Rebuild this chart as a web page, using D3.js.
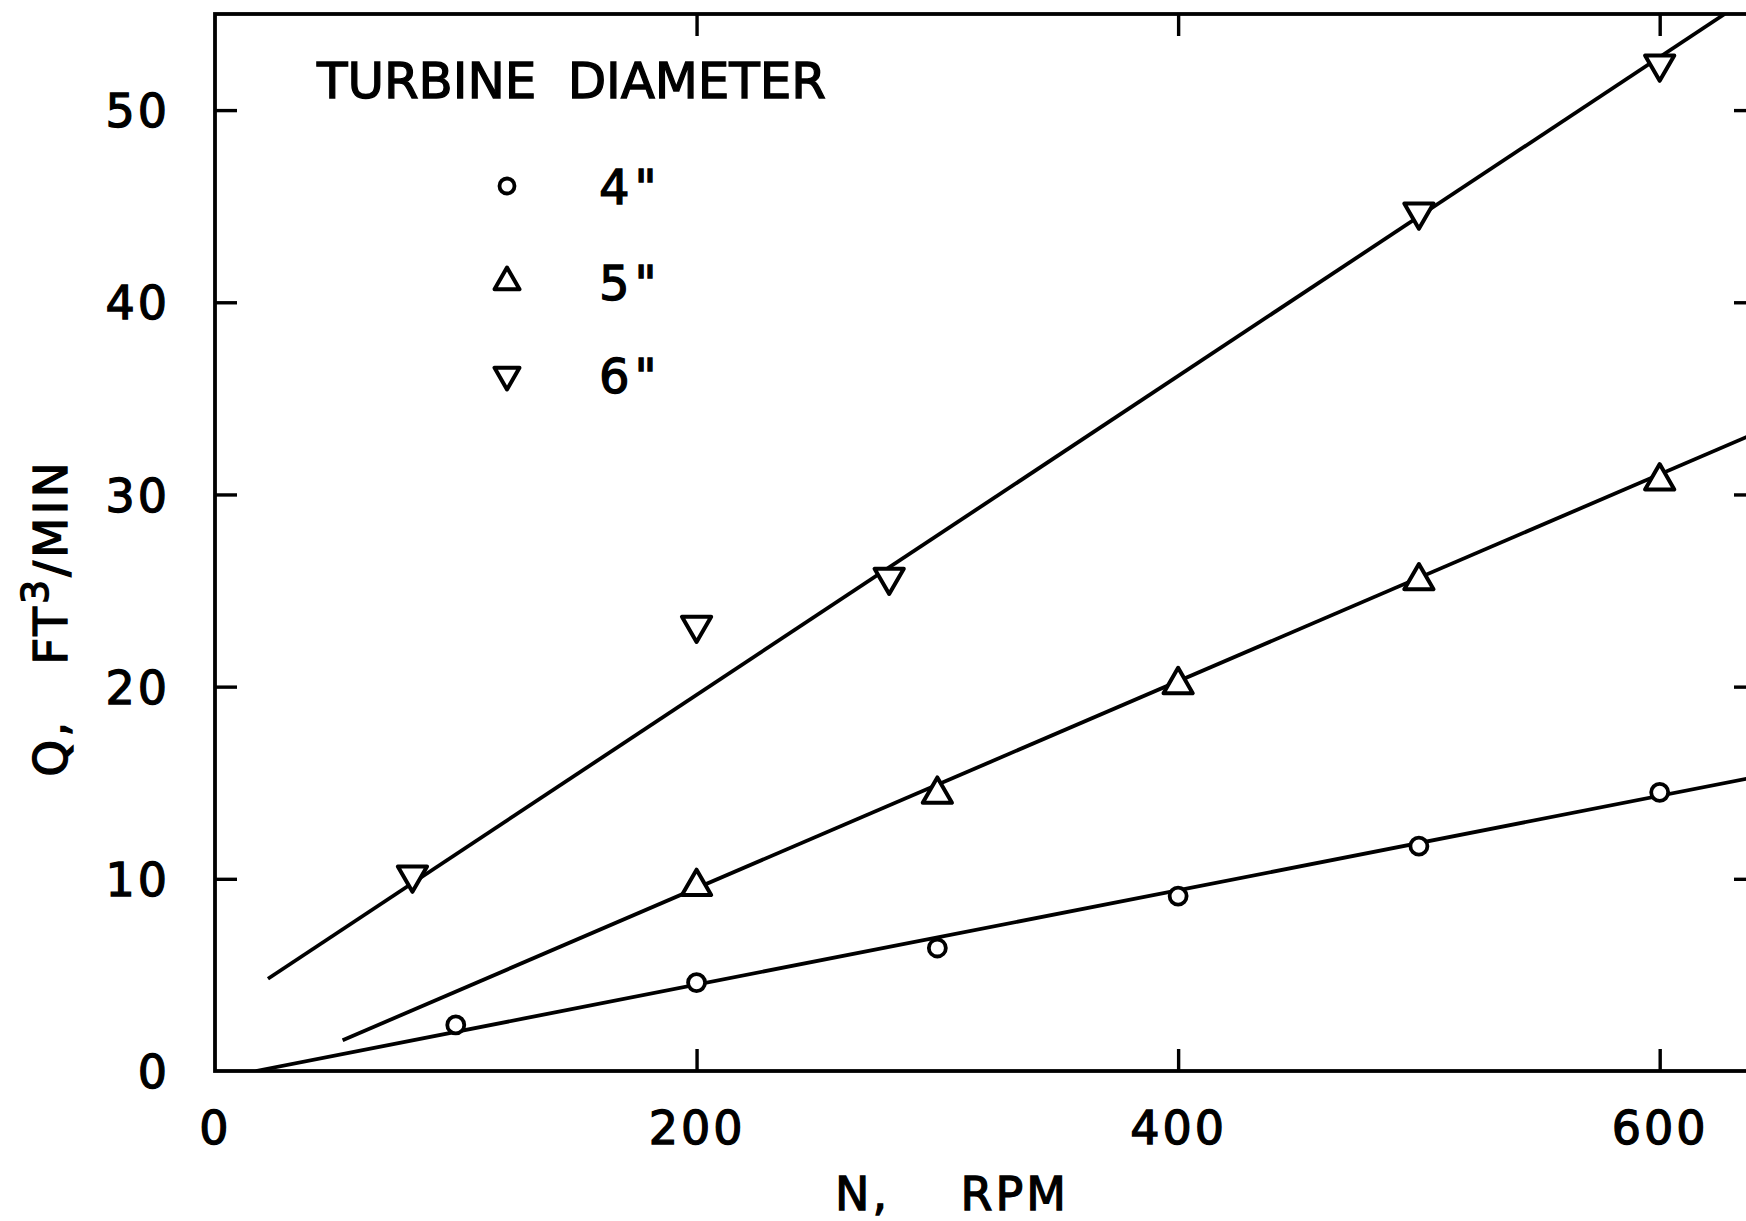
<!DOCTYPE html>
<html>
<head>
<meta charset="utf-8">
<script src="https://cdn.jsdelivr.net/npm/d3@7"></script>
<style>
    body { margin: 0; background: #fff; }
    text { font-family: "DejaVu Sans", sans-serif; fill: #000; stroke: #000; stroke-width: 1.3px; }
</style>
</head>
<body>
<div id="chart"></div>
<script>
// data
var rpm4 = [100, 200, 300, 400, 500, 600];
var flow4 = [2.4, 4.6, 6.4, 9.1, 11.7, 14.5];

var rpm5 = [200, 300, 400, 500, 600];
var flow5 = [9.6, 14.4, 20.1, 25.5, 30.7];

var rpm6 = [82, 200, 280, 500, 600];
var flow6 = [10.2, 23.2, 25.7, 44.7, 52.4];

// fitted lines: [start rpm, start Q, end rpm, end Q]
var fit4 = [17, 0, 640, 15.3];
var fit5 = [53, 1.6, 640, 33.2];
var fit6 = [22, 4.8, 627, 55];

var xTicks = [0, 200, 400, 600];
var yTicks = [0, 10, 20, 30, 40, 50];
var legendLabels = ["4\"", "5\"", "6\""];

var svgWidth = 1746;
var svgHeight = 1221;

var margin = { top: 14, right: -10, bottom: 150, left: 215 };
var width = svgWidth - margin.left - margin.right;
var height = svgHeight - margin.top - margin.bottom;

var svg = d3.select("#chart")
    .append("svg")
    .attr("width", svgWidth)
    .attr("height", svgHeight);

var chartGroup = svg.append("g")
    .attr("transform", `translate(${margin.left}, ${margin.top})`);

var xScale = d3.scaleLinear().domain([0, 640]).range([0, width]);
var yScale = d3.scaleLinear().domain([0, 55]).range([height, 0]);

svg.append("defs").append("clipPath")
    .attr("id", "plotClip")
    .append("rect")
    .attr("width", width)
    .attr("height", height);

// frame with inward ticks on every side
var tickLen = 22;
chartGroup.append("rect")
    .attr("width", width)
    .attr("height", height)
    .attr("stroke", "#000")
    .attr("stroke-width", 3.8)
    .attr("fill", "none");

var xAxisG = chartGroup.append("g")
    .attr("transform", `translate(0, ${height})`)
    .call(d3.axisBottom(xScale).tickValues(xTicks).tickSize(-tickLen).tickPadding(40));
var xTopG = chartGroup.append("g")
    .call(d3.axisTop(xScale).tickValues(xTicks.slice(1)).tickSize(-tickLen).tickFormat(""));
var yAxisG = chartGroup.append("g")
    .call(d3.axisLeft(yScale).tickValues(yTicks).tickSize(-tickLen).tickPadding(45));
var yRightG = chartGroup.append("g")
    .attr("transform", `translate(${width}, 0)`)
    .call(d3.axisRight(yScale).tickValues(yTicks.slice(1)).tickSize(-tickLen).tickFormat(""));

[xAxisG, xTopG, yAxisG, yRightG].forEach(g => {
    g.select(".domain").remove();
    g.selectAll(".tick line").attr("stroke", "#000").attr("stroke-width", 3.4);
    g.selectAll(".tick text")
        .style("font-family", "DejaVu Sans, sans-serif")
        .style("font-size", "46px")
        .style("letter-spacing", "3px")
        .attr("fill", "#000");
});
xAxisG.selectAll(".tick line").filter(d => d === 0).remove();
yAxisG.selectAll(".tick line").filter(d => d === 0).remove();
xAxisG.selectAll(".tick text").attr("dy", "0.72em");
yAxisG.selectAll(".tick text").attr("dy", "0.36em");

// fitted lines
var lineGroup = chartGroup.append("g").attr("clip-path", "url(#plotClip)");
[fit4, fit5, fit6].forEach(f => {
    lineGroup.append("line")
        .attr("x1", xScale(f[0]))
        .attr("y1", yScale(f[1]))
        .attr("x2", xScale(f[2]))
        .attr("y2", yScale(f[3]))
        .attr("stroke", "#000")
        .attr("stroke-width", 3.8);
});

// markers
function drawMarker(g, kind, x, y, big) {
    if (kind === "circle") {
        g.append("circle")
            .attr("cx", x).attr("cy", y)
            .attr("r", big ? 8.5 : 7.5)
            .attr("fill", "#fff").attr("stroke", "#000").attr("stroke-width", 3.8);
    } else {
        g.append("path")
            .attr("d", d3.symbol().type(d3.symbolTriangle).size(big ? 370 : 270))
            .attr("transform", `translate(${x}, ${y}) rotate(${kind === "down" ? 180 : 0})`)
            .attr("fill", "#fff").attr("stroke", "#000").attr("stroke-width", 4)
            .attr("stroke-linejoin", "round");
    }
}

function drawPoints(xs, ys, kind) {
    var g = chartGroup.append("g");
    xs.forEach((x, i) => drawMarker(g, kind, xScale(x), yScale(ys[i]), true));
}

drawPoints(rpm4, flow4, "circle");
drawPoints(rpm5, flow5, "up");
drawPoints(rpm6, flow6, "down");

// legend
svg.append("text")
    .attr("x", 317)
    .attr("y", 98)
    .attr("textLength", 509)
    .attr("lengthAdjust", "spacing")
    .style("font-size", "50px")
    .style("white-space", "pre")
    .text("TURBINE  DIAMETER");

var legendY = [186, 282, 375];
var legendKinds = ["circle", "up", "down"];
legendKinds.forEach((k, i) => {
    drawMarker(svg, k, 507, legendY[i], false);
    svg.append("text")
        .attr("x", 599)
        .attr("y", legendY[i] + 18)
        .style("font-size", "48px")
        .style("letter-spacing", "5px")
        .text(legendLabels[i]);
});

// axis titles
svg.append("text")
    .attr("x", 952)
    .attr("y", 1210)
    .attr("text-anchor", "middle")
    .style("font-size", "46px")
    .style("white-space", "pre")
    .style("letter-spacing", "3px")
    .text("N,    RPM");

var yTitle = svg.append("text")
    .attr("transform", "translate(67, 618) rotate(-90)")
    .attr("text-anchor", "middle")
    .style("font-size", "47px")
    .style("white-space", "pre")
    .style("letter-spacing", "3px");
yTitle.append("tspan").text("Q,   FT");
yTitle.append("tspan").attr("dy", -19).style("font-size", "38px").text("3");
yTitle.append("tspan").attr("dy", 19).text("/MIN");
</script>
</body>
</html>
